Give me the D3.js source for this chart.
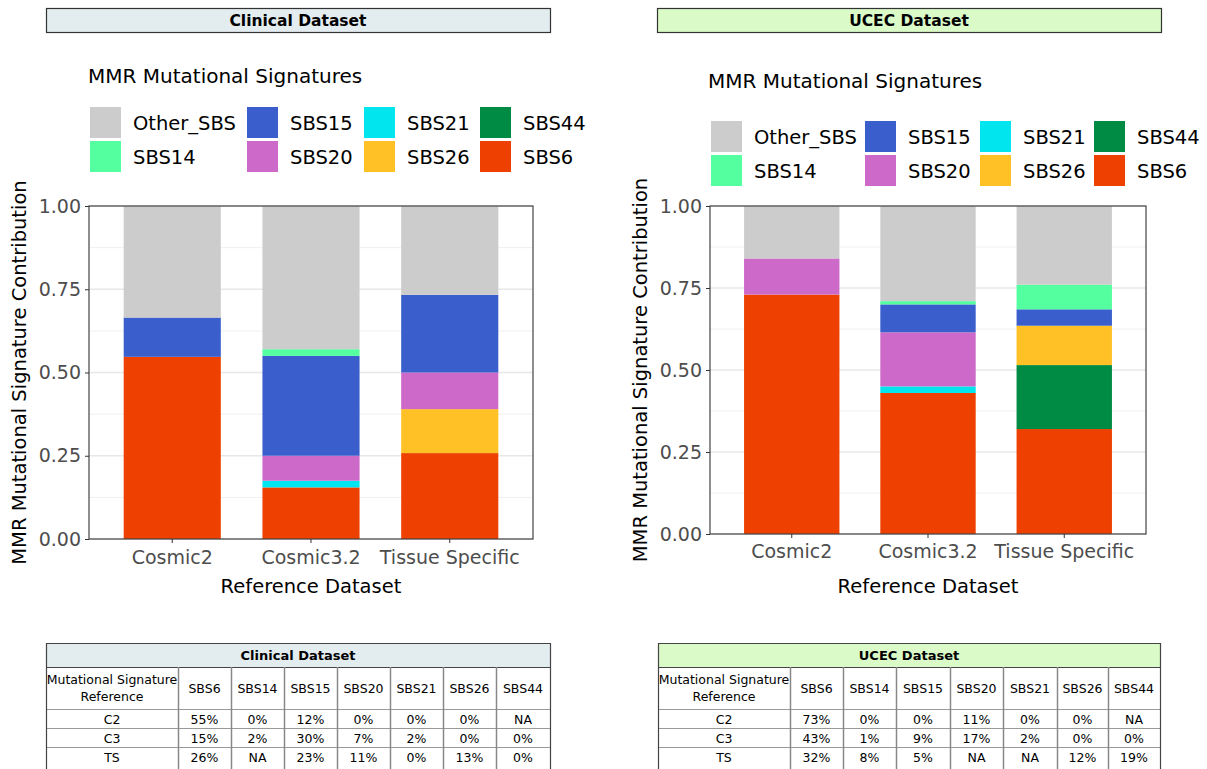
<!DOCTYPE html>
<html>
<head>
<meta charset="utf-8">
<script src="https://cdn.jsdelivr.net/npm/d3@7"></script>
<style>
  body { margin: 0; background: #fff; }
  svg { display: block; font-family: "DejaVu Sans", Verdana, sans-serif; }
</style>
</head>
<body>
<script>
const W = 1207;
const H = 769;

// categories and signatures
const categories = ["Cosmic2", "Cosmic3.2", "Tissue Specific"];
const signatures = ["Other_SBS", "SBS14", "SBS15", "SBS20", "SBS21", "SBS26", "SBS44", "SBS6"];
const stackOrder = ["SBS6", "SBS44", "SBS26", "SBS21", "SBS20", "SBS15", "SBS14", "Other_SBS"];
const sigColors = ["#cccccc", "#54ff9f", "#3a5fcd", "#cd69c9", "#00e5ee", "#ffc125", "#008b45", "#ee4000"];
const yTicks = [0, 0.25, 0.5, 0.75, 1];
const yMinor = [0.125, 0.375, 0.625, 0.875];

// Clinical dataset contributions (Cosmic2, Cosmic3.2, Tissue Specific)
const clinicalOther = [0.335, 0.43, 0.267];
const clinicalSBS14 = [0, 0.02, 0];
const clinicalSBS15 = [0.118, 0.30, 0.233];
const clinicalSBS20 = [0, 0.075, 0.11];
const clinicalSBS21 = [0, 0.02, 0];
const clinicalSBS26 = [0, 0, 0.132];
const clinicalSBS44 = [0, 0, 0];
const clinicalSBS6 = [0.547, 0.155, 0.258];

// UCEC dataset contributions
const ucecOther = [0.16, 0.29, 0.24];
const ucecSBS14 = [0, 0.01, 0.075];
const ucecSBS15 = [0, 0.085, 0.05];
const ucecSBS20 = [0.11, 0.165, 0];
const ucecSBS21 = [0, 0.02, 0];
const ucecSBS26 = [0, 0, 0.12];
const ucecSBS44 = [0, 0, 0.195];
const ucecSBS6 = [0.73, 0.43, 0.32];

// table contents
const tableColumns = ["SBS6", "SBS14", "SBS15", "SBS20", "SBS21", "SBS26", "SBS44"];
const tableRowLabels = ["C2", "C3", "TS"];
const clinicalTableC2 = ["55%", "0%", "12%", "0%", "0%", "0%", "NA"];
const clinicalTableC3 = ["15%", "2%", "30%", "7%", "2%", "0%", "0%"];
const clinicalTableTS = ["26%", "NA", "23%", "11%", "0%", "13%", "0%"];
const ucecTableC2 = ["73%", "0%", "0%", "11%", "0%", "0%", "NA"];
const ucecTableC3 = ["43%", "1%", "9%", "17%", "2%", "0%", "0%"];
const ucecTableTS = ["32%", "8%", "5%", "NA", "NA", "12%", "19%"];

const color = d3.scaleOrdinal().domain(signatures).range(sigColors);

const svg = d3.select("body").append("svg")
  .attr("width", W)
  .attr("height", H);

function buildRows(series) {
  return categories.map(function (c, i) {
    const row = { category: c };
    signatures.forEach(function (s) { row[s] = series[s][i]; });
    return row;
  });
}

const panels = [
  {
    title: "Clinical Dataset", fill: "#e3ecef",
    header: [46, 8, 504, 24],
    legendTitle: [88, 83], legendTop: 107, legendCols: [90, 247, 364, 480],
    plot: { left: 89, right: 533, top: 206, bottom: 539 },
    yTitleX: 26, xTickY: 564, xTitleY: 593,
    rows: buildRows({
      Other_SBS: clinicalOther, SBS14: clinicalSBS14, SBS15: clinicalSBS15, SBS20: clinicalSBS20,
      SBS21: clinicalSBS21, SBS26: clinicalSBS26, SBS44: clinicalSBS44, SBS6: clinicalSBS6
    }),
    table: { cols: [46, 178, 231, 284, 337, 390, 443, 496, 550], rowsY: [643, 667, 709, 728, 747, 766],
      body: [clinicalTableC2, clinicalTableC3, clinicalTableTS] }
  },
  {
    title: "UCEC Dataset", fill: "#dafac8",
    header: [657, 8, 504, 24],
    legendTitle: [708, 88], legendTop: 121, legendCols: [711, 865, 980, 1094],
    plot: { left: 710, right: 1146, top: 206, bottom: 534 },
    yTitleX: 647, xTickY: 558, xTitleY: 593,
    rows: buildRows({
      Other_SBS: ucecOther, SBS14: ucecSBS14, SBS15: ucecSBS15, SBS20: ucecSBS20,
      SBS21: ucecSBS21, SBS26: ucecSBS26, SBS44: ucecSBS44, SBS6: ucecSBS6
    }),
    table: { cols: [658, 790, 843, 896, 950, 1003, 1057, 1108, 1160], rowsY: [643, 667, 709, 728, 747, 766],
      body: [ucecTableC2, ucecTableC3, ucecTableTS] }
  }
];

panels.forEach(function (p) {
  // header strip
  svg.append("rect")
    .attr("x", p.header[0] + 0.5).attr("y", p.header[1] + 0.5)
    .attr("width", p.header[2]).attr("height", p.header[3])
    .attr("fill", p.fill).attr("stroke", "#333").attr("stroke-width", 1.2);
  svg.append("text")
    .attr("x", p.header[0] + p.header[2] / 2).attr("y", p.header[1] + p.header[3] / 2 + 5.5)
    .attr("text-anchor", "middle").attr("font-weight", "bold").attr("font-size", 15.5)
    .text(p.title);

  // legend
  svg.append("text")
    .attr("x", p.legendTitle[0]).attr("y", p.legendTitle[1])
    .attr("font-size", 20).attr("fill", "#000")
    .text("MMR Mutational Signatures");
  const leg = svg.append("g");
  signatures.forEach(function (s, i) {
    const cx = p.legendCols[Math.floor(i / 2)];
    const cy = p.legendTop + (i % 2) * 34;
    leg.append("rect").attr("x", cx).attr("y", cy).attr("width", 31).attr("height", 31)
      .attr("fill", color(s));
    leg.append("text").attr("x", cx + 43).attr("y", cy + 23)
      .attr("font-size", 19.5).text(s);
  });

  // scales
  const x = d3.scaleBand().domain(categories)
    .range([p.plot.left, p.plot.right]).paddingInner(0.3).paddingOuter(0.25);
  const y = d3.scaleLinear().domain([0, 1]).range([p.plot.bottom, p.plot.top]);

  const g = svg.append("g");
  // grid
  g.selectAll(".minor").data(yMinor).enter().append("line")
    .attr("x1", p.plot.left).attr("x2", p.plot.right)
    .attr("y1", d => y(d)).attr("y2", d => y(d))
    .attr("stroke", "#f0f0f0").attr("stroke-width", 1);
  g.selectAll(".major").data(yTicks).enter().append("line")
    .attr("x1", p.plot.left).attr("x2", p.plot.right)
    .attr("y1", d => y(d)).attr("y2", d => y(d))
    .attr("stroke", "#e8e8e8").attr("stroke-width", 1.4);

  // bars
  const stacked = d3.stack().keys(stackOrder)(p.rows);
  g.selectAll(".layer").data(stacked).enter().append("g")
    .attr("fill", d => color(d.key))
    .selectAll("rect").data(d => d).enter().append("rect")
    .attr("x", d => x(d.data.category))
    .attr("width", x.bandwidth())
    .attr("y", d => y(d[1]))
    .attr("height", d => Math.max(0, y(d[0]) - y(d[1])));

  // border
  g.append("rect")
    .attr("x", p.plot.left).attr("y", p.plot.top)
    .attr("width", p.plot.right - p.plot.left).attr("height", p.plot.bottom - p.plot.top)
    .attr("fill", "none").attr("stroke", "#444").attr("stroke-width", 1.2);

  // y axis
  const ya = g.append("g").attr("transform", "translate(" + p.plot.left + ",0)")
    .call(d3.axisLeft(y).tickValues(yTicks).tickFormat(d3.format(".2f")).tickSize(4).tickPadding(4));
  ya.select(".domain").remove();
  ya.selectAll("line").attr("stroke", "#333");
  ya.selectAll("text").attr("font-size", 19).attr("fill", "#4d4d4d")
    .attr("font-family", "DejaVu Sans, Verdana, sans-serif");

  // x axis
  const xa = g.append("g").attr("transform", "translate(0," + p.plot.bottom + ")")
    .call(d3.axisBottom(x).tickSize(4).tickPadding(4));
  xa.select(".domain").remove();
  xa.selectAll("line").attr("stroke", "#333");
  xa.selectAll("text").attr("font-size", 19).attr("fill", "#4d4d4d")
    .attr("font-family", "DejaVu Sans, Verdana, sans-serif")
    .attr("dy", null).attr("y", p.xTickY - p.plot.bottom);

  // axis titles
  svg.append("text")
    .attr("x", (p.plot.left + p.plot.right) / 2).attr("y", p.xTitleY)
    .attr("text-anchor", "middle").attr("font-size", 19.5)
    .text("Reference Dataset");
  svg.append("text")
    .attr("transform", "translate(" + p.yTitleX + "," + (p.plot.top + p.plot.bottom) / 2 + ") rotate(-90)")
    .attr("text-anchor", "middle").attr("font-size", 19.5)
    .text("MMR Mutational Signature Contribution");

  // table
  const t = p.table;
  const tg = svg.append("g");
  const tl = t.cols[0], tr = t.cols[t.cols.length - 1];
  tg.append("rect").attr("x", tl).attr("y", t.rowsY[0])
    .attr("width", tr - tl).attr("height", t.rowsY[1] - t.rowsY[0])
    .attr("fill", p.fill);
  tg.append("text").attr("x", (tl + tr) / 2).attr("y", t.rowsY[0] + 16.5)
    .attr("text-anchor", "middle").attr("font-weight", "bold").attr("font-size", 13)
    .text(p.title);
  // horizontal lines
  t.rowsY.slice(1, 5).forEach(function (ry) {
    tg.append("line").attr("x1", tl).attr("x2", tr).attr("y1", ry + 0.5).attr("y2", ry + 0.5)
      .attr("stroke", ry === t.rowsY[1] ? "#444" : "#999").attr("stroke-width", 1.2);
  });
  // vertical lines
  t.cols.slice(1, -1).forEach(function (cx) {
    tg.append("line").attr("x1", cx + 0.5).attr("x2", cx + 0.5)
      .attr("y1", t.rowsY[1]).attr("y2", H)
      .attr("stroke", "#888").attr("stroke-width", 1.5);
  });
  // outer border
  tg.append("path")
    .attr("d", "M" + (tl + 0.5) + "," + H + "V" + (t.rowsY[0] + 0.5) + "H" + (tr + 0.5) + "V" + H)
    .attr("fill", "none").attr("stroke", "#444").attr("stroke-width", 1.2);
  // column headers
  const c0 = (t.cols[0] + t.cols[1]) / 2;
  tg.append("text").attr("x", c0).attr("y", t.rowsY[1] + 17).attr("text-anchor", "middle")
    .attr("font-size", 12.5).text("Mutational Signature");
  tg.append("text").attr("x", c0).attr("y", t.rowsY[1] + 34).attr("text-anchor", "middle")
    .attr("font-size", 12.5).text("Reference");
  tableColumns.forEach(function (c, j) {
    tg.append("text").attr("x", (t.cols[j + 1] + t.cols[j + 2]) / 2).attr("y", t.rowsY[1] + 26)
      .attr("text-anchor", "middle").attr("font-size", 12.5).text(c);
  });
  // body rows
  t.body.forEach(function (row, i) {
    const ry = t.rowsY[i + 2] + 14.5;
    tg.append("text").attr("x", c0).attr("y", ry).attr("text-anchor", "middle")
      .attr("font-size", 12.5).text(tableRowLabels[i]);
    row.forEach(function (v, j) {
      tg.append("text").attr("x", (t.cols[j + 1] + t.cols[j + 2]) / 2).attr("y", ry)
        .attr("text-anchor", "middle").attr("font-size", 12.5).text(v);
    });
  });
});
</script>
</body>
</html>
